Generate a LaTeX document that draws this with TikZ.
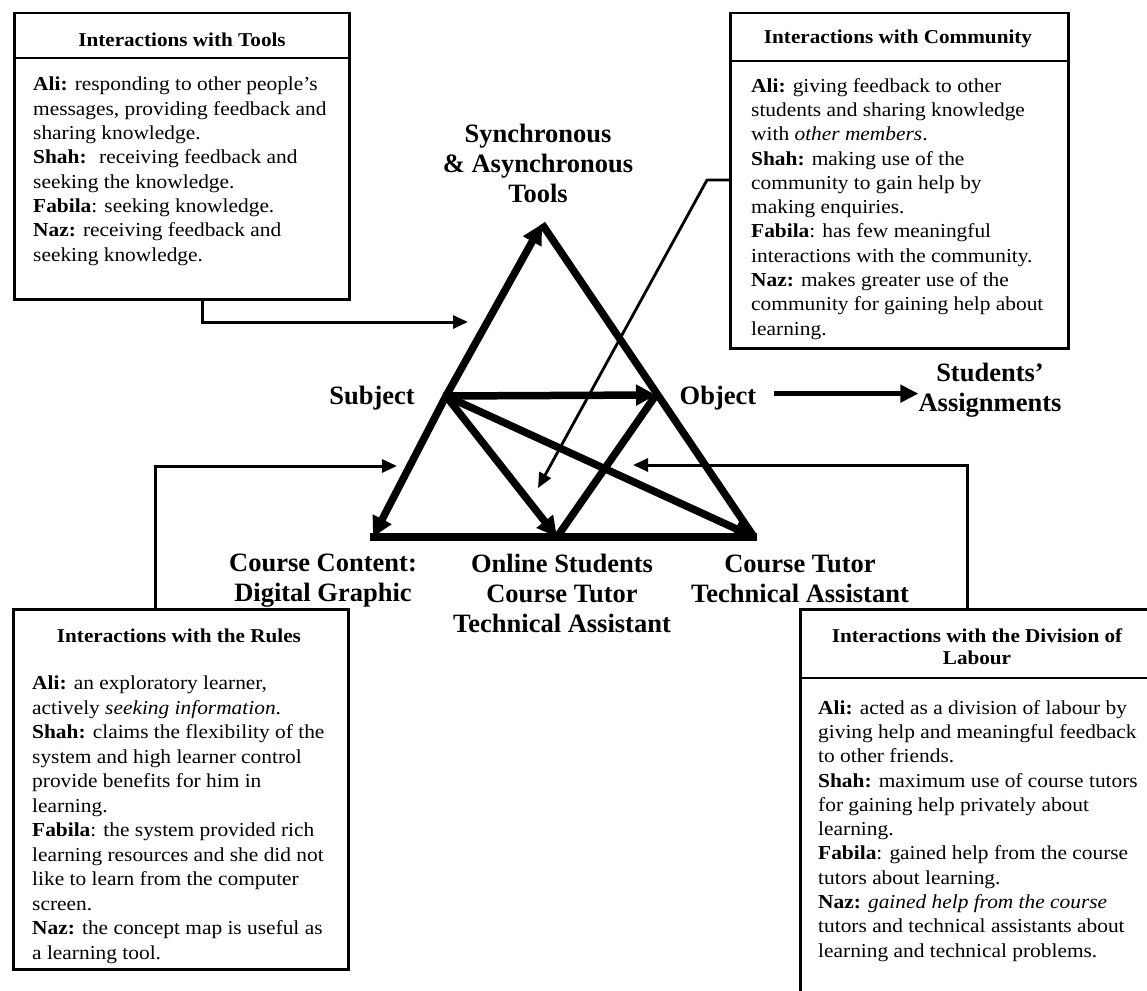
\documentclass[tikz,border=0pt]{standalone}
\usepackage{fontspec}
\setmainfont{Liberation Serif}
\newfontfamily\panelfont[FakeStretch=1.08]{Liberation Serif}
\usetikzlibrary{arrows.meta}

\begin{document}
\begin{tikzpicture}[x=1pt,y=-1pt,
  panel/.style={draw, line width=2.5pt, inner sep=0pt, anchor=north west},
  paneltext/.style={anchor=north west, inner sep=0pt, align=left,
    font=\panelfont\fontsize{19.8}{24.3}\selectfont},
  panelhead/.style={inner sep=0pt, align=center,
    font=\panelfont\bfseries\fontsize{19.6}{21.5}\selectfont},
  vertex/.style={inner sep=0pt, align=center,
    font=\bfseries\fontsize{26.5}{30}\selectfont},
  side/.style={line width=7.5pt},
  heavy/.style={side, -{Triangle[length=20pt,width=20pt]}},
  feed/.style={line width=3pt, -{Triangle[length=15pt,width=13pt]}},
]
\useasboundingbox[fill=white] (0,0) rectangle (1147,990);

% ---------- panels ----------
\node[panel, minimum width=335pt, minimum height=286pt] (tools) at (13,12) {};
\draw[line width=2.5pt] ([yshift=-46pt]tools.north west) -- ([yshift=-46pt]tools.north east);
\node[panelhead, anchor=base] (toolsH) at (182,46.5) {Interactions with Tools};
\node[paneltext] (toolsT) at (33,77)
 {\textbf{Ali:} responding to other people’s\\
  messages, providing feedback and\\
  sharing knowledge.\\
  \textbf{Shah:}~ receiving feedback and\\
  seeking the knowledge.\\
  \textbf{Fabila}: seeking knowledge.\\
  \textbf{Naz:} receiving feedback and\\
  seeking knowledge.};

\node[panel, minimum width=338pt, minimum height=335pt] (comm) at (729,12) {};
\draw[line width=2.5pt] ([yshift=-49pt]comm.north west) -- ([yshift=-49pt]comm.north east);
\node[panelhead, anchor=base] (commH) at (898,44) {Interactions with Community};
\node[paneltext] (commT) at (751,78)
 {\textbf{Ali:} giving feedback to other\\
  students and sharing knowledge\\
  with \textit{other members}.\\
  \textbf{Shah:} making use of the\\
  community to gain help by\\
  making enquiries.\\
  \textbf{Fabila}: has few meaningful\\
  interactions with the community.\\
  \textbf{Naz:} makes greater use of the\\
  community for gaining help about\\
  learning.};

\node[panel, minimum width=335pt, minimum height=360pt] (rules) at (12,608) {};
\node[panelhead, anchor=base] (rulesH) at (179,642) {Interactions with the Rules};
\node[paneltext, font=\panelfont\fontsize{19.8}{24.5}\selectfont] (rulesT) at (32,676)
 {\textbf{Ali:} an exploratory learner,\\
  actively \textit{seeking information}.\\
  \textbf{Shah:} claims the flexibility of the\\
  system and high learner control\\
  provide benefits for him in\\
  learning.\\
  \textbf{Fabila}: the system provided rich\\
  learning resources and she did not\\
  like to learn from the computer\\
  screen.\\
  \textbf{Naz:} the concept map is useful as\\
  a learning tool.};

\node[panel, minimum width=360pt, minimum height=400pt] (labour) at (799,608) {};
\draw[line width=2.5pt] ([yshift=-70pt]labour.north west) -- ([yshift=-70pt]labour.north east);
\node[panelhead, anchor=north] (labourH) at (977,628.5) {Interactions with the Division of\\ Labour};
\node[paneltext] (labourT) at (818,700)
 {\textbf{Ali:} acted as a division of labour by\\
  giving help and meaningful feedback\\
  to other friends.\\
  \textbf{Shah:} maximum use of course tutors\\
  for gaining help privately about\\
  learning.\\
  \textbf{Fabila}: gained help from the course\\
  tutors about learning.\\
  \textbf{Naz:} \textit{gained help from the course}\\
  tutors and technical assistants about\\
  learning and technical problems.};

% ---------- activity triangle ----------
\coordinate (T)  at (542,224);
\coordinate (S)  at (446,396);
\coordinate (O)  at (656,395);
\coordinate (CC) at (373,537);
\coordinate (OS) at (557,537);
\coordinate (CT) at (754,537);

\draw[side] (T) -- (CT);
\draw[side] ([xshift=-3pt]CC) -- ([xshift=3pt]CT);
\draw[side] (OS) -- (O);
\draw[heavy] (S) -- (T);
\draw[heavy] (S) -- (CC);
\draw[heavy] ([xshift=-3pt]S) -- (O);
\draw[heavy] (S) -- (OS);
\draw[heavy] (S) -- (CT);

% ---------- labels ----------
\node[vertex] (toolsL) at (538,163) {Synchronous\\ \& Asynchronous\\ Tools};
\node[vertex, anchor=base] (subjL) at (372,404) {Subject};
\node[vertex, anchor=base] (objL) at (718,404) {Object};
\node[vertex] (assignL) at (990,390) {Students’\\ Assignments};
\node[vertex] (contentL) at (323,581) {Course Content:\\ Digital Graphic};
\node[vertex] (onlineL) at (562,593) {Online Students\\ Course Tutor\\ Technical Assistant};
\node[vertex] (tutorL) at (800,579) {Course Tutor\\ Technical Assistant};

\draw[line width=5.5pt, -{Triangle[length=18pt,width=17pt]}]
  ([xshift=18pt,yshift=4pt]objL.east) -- ([yshift=4pt]assignL.west |- objL.east);

% ---------- panel connectors ----------
\coordinate (toolsIn)  at (468,322);
\coordinate (rulesIn)  at (397,466);
\coordinate (labourIn) at (633,465);
\coordinate (commIn)   at (538,488);

\draw[feed] ([xshift=189pt]tools.south west) |- (toolsIn);
\draw[feed] ([xshift=143pt]rules.north west) |- (rulesIn);
\draw[feed] ([xshift=168pt]labour.north west) |- (labourIn);
\draw[feed, line width=2.8pt] ([yshift=-168pt]comm.north west) -- ++(-22,0) -- (commIn);
\end{tikzpicture}
\end{document}
